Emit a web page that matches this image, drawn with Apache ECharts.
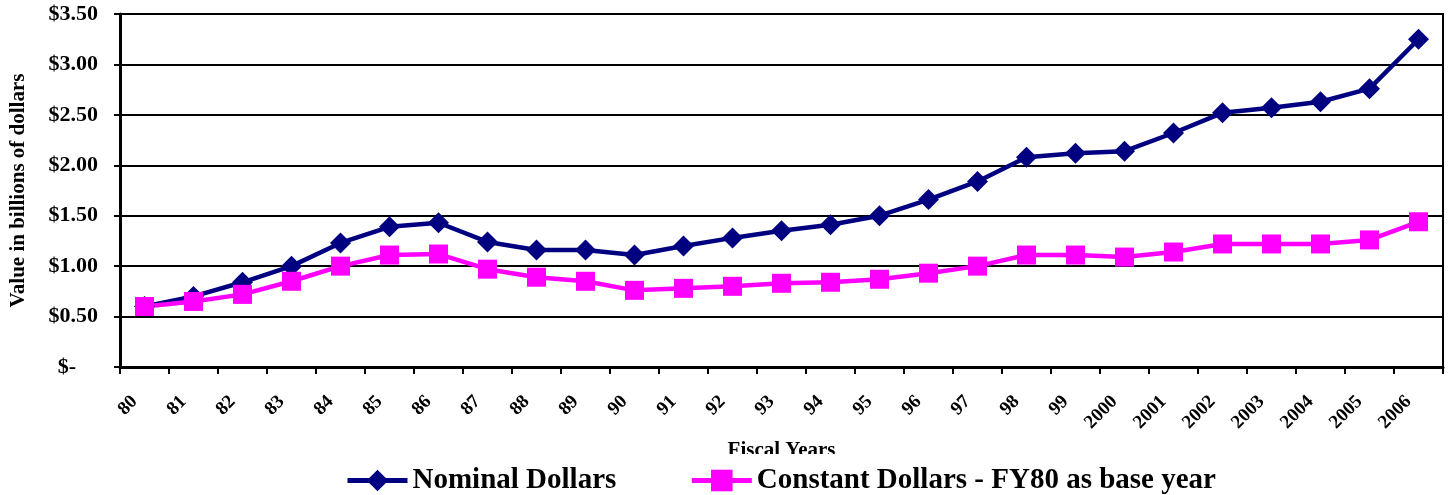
<!DOCTYPE html>
<html>
<head>
<meta charset="utf-8">
<script src="https://cdn.jsdelivr.net/npm/echarts@6/dist/echarts.min.js"></script>
<style>
html,body{margin:0;padding:0;background:#fff;}
#main{width:1450px;height:495px;}
</style>
</head>
<body>
<div id="main"></div>
<script>
const categories = ['80','81','82','83','84','85','86','87','88','89','90','91','92','93','94','95','96','97','98','99','2000','2001','2002','2003','2004','2005','2006'];
const nominal = [0.60,0.70,0.84,1.00,1.23,1.39,1.43,1.24,1.16,1.16,1.11,1.20,1.28,1.35,1.41,1.50,1.66,1.84,2.08,2.12,2.14,2.32,2.52,2.57,2.63,2.76,3.25];
const constant = [0.60,0.65,0.72,0.85,1.00,1.11,1.12,0.97,0.89,0.85,0.76,0.78,0.80,0.83,0.84,0.87,0.93,1.00,1.11,1.11,1.09,1.14,1.22,1.22,1.22,1.26,1.44];
const seriesNames = ['Nominal Dollars','Constant Dollars - FY80 as base year'];

const FONT = '"Liberation Serif","Times New Roman",serif';
const chart = echarts.init(document.getElementById('main'));
chart.setOption({
  animation: false,
  backgroundColor: '#fff',
  grid: {left: 119, right: 7, top: 14, bottom: 128, show: true, borderColor: '#000', borderWidth: 2, containLabel: false},
  legend: {
    left: 340, top: 454,
    padding: [12, 5, 2, 5],
    backgroundColor: '#fff',
    itemWidth: 60, itemHeight: 27, itemGap: 73,
    lineStyle: {width: 5},
    textStyle: {fontFamily: FONT, fontWeight: 'bold', fontSize: 29, color: '#000'},
    data: seriesNames
  },
  xAxis: {
    type: 'category',
    data: categories,
    boundaryGap: true,
    name: 'Fiscal Years',
    nameLocation: 'middle',
    nameGap: 73,
    nameTextStyle: {fontFamily: FONT, fontWeight: 'bold', fontSize: 21, color: '#000', verticalAlign: 'top'},
    axisLine: {lineStyle: {color: '#000', width: 3}},
    axisTick: {show: true, alignWithLabel: false, length: 7, lineStyle: {color: '#000', width: 2}},
    axisLabel: {rotate: 45, margin: 22, interval: 0, fontFamily: FONT, fontWeight: 'bold', fontSize: 19, color: '#000', padding: [0, 14, 0, 0]},
    splitLine: {show: false}
  },
  yAxis: {
    type: 'value',
    min: 0, max: 3.5, interval: 0.5,
    name: 'Value in billions of dollars',
    nameLocation: 'middle',
    nameGap: 91,
    nameTextStyle: {fontFamily: FONT, fontWeight: 'bold', fontSize: 21, color: '#000'},
    axisLine: {show: true, lineStyle: {color: '#000', width: 3}},
    axisTick: {show: true, length: 6, lineStyle: {color: '#000', width: 2}},
    axisLabel: {
      margin: 22,
      fontFamily: FONT, fontWeight: 'bold', fontSize: 22, color: '#000',
      formatter: function (v) { return v === 0 ? '{z|$-}' : '$' + v.toFixed(2); },
      rich: {z: {fontFamily: FONT, fontWeight: 'bold', fontSize: 22, color: '#000', padding: [0, 22, 0, 0]}}
    },
    splitLine: {show: true, lineStyle: {color: '#000', width: 2}}
  },
  series: [
    {
      name: seriesNames[0], type: 'line', data: nominal,
      symbol: 'diamond', symbolSize: 21,
      lineStyle: {color: '#000080', width: 4.5},
      itemStyle: {color: '#000080'}
    },
    {
      name: seriesNames[1], type: 'line', data: constant,
      symbol: 'rect', symbolSize: 19,
      lineStyle: {color: '#FF00FF', width: 4.5},
      itemStyle: {color: '#FF00FF'}
    }
  ]
});
</script>
</body>
</html>
